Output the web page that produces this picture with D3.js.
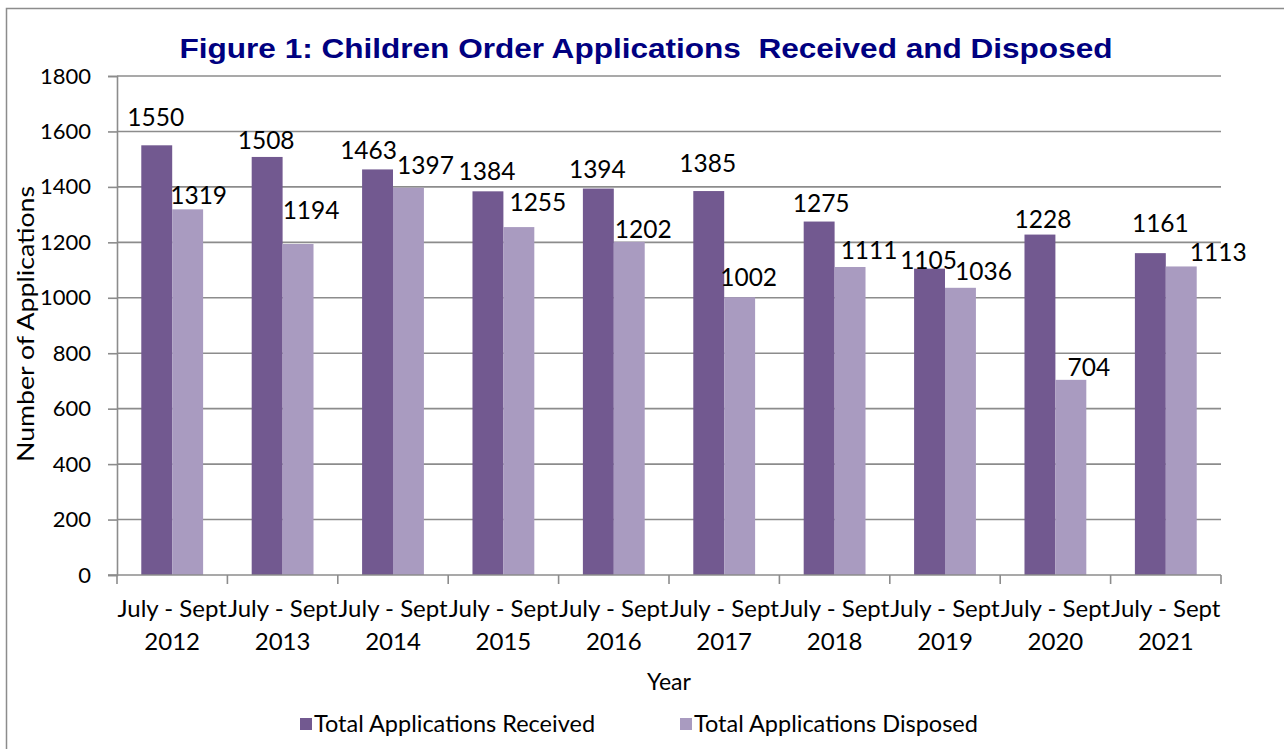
<!DOCTYPE html>
<html>
<head>
<meta charset="utf-8">
<script src="https://cdn.jsdelivr.net/npm/d3@7"></script>
<style>
  body { margin: 0; background: #fff; }
  svg { display: block; }
</style>
</head>
<body>
<svg width="1284" height="749"></svg>
<script>
/* ---- data ---- */
const years = ["2012", "2013", "2014", "2015", "2016", "2017", "2018", "2019", "2020", "2021"];
const received = [1550, 1508, 1463, 1384, 1394, 1385, 1275, 1105, 1228, 1161];
const disposed = [1319, 1194, 1397, 1255, 1202, 1002, 1111, 1036, 704, 1113];
const seriesNames = ["Total Applications Received", "Total Applications Disposed"];
const yTicks = [0, 200, 400, 600, 800, 1000, 1200, 1400, 1600, 1800];

/* hand-placed data labels in the original: nudge [dx, dy] in px from bar top centre */
const receivedNudge = [[-1, -19], [-1, -8], [-9, -10], [-1, -11], [-1, -11], [-1, -19], [2, -10], [-1, 0], [3, -7], [10, -21]];
const disposedNudge = [[11, -5], [13, -25], [17, -14], [19, -16], [14, -4], [9, -11], [19, -8], [23, -8], [18, -4], [37, -5]];

const colors = ["#725990", "#a99bc0"];
const font = "Lato, 'Open Sans', sans-serif";

const svg = d3.select("svg");

/* ---- frame (only left/top edges show) ---- */
svg.append("rect")
    .attr("x", 6.5).attr("y", 8.5)
    .attr("width", 1300).attr("height", 800)
    .attr("fill", "#fff")
    .attr("stroke", "#8c8c8c").attr("stroke-width", 1.5);

/* ---- scales ---- */
const plotLeft = 117, plotRight = 1221, plotTop = 76, plotBottom = 575;

const x = d3.scaleBand()
    .domain(years)
    .range([plotLeft, plotRight])
    .paddingInner(0.44)
    .paddingOuter(0.22);

const x1 = d3.scaleBand()
    .domain([0, 1])
    .range([0, x.bandwidth()]);

const y = d3.scaleLinear()
    .domain([0, 1800])
    .range([plotBottom, plotTop]);

/* ---- gridlines ---- */
svg.append("g")
    .selectAll("line")
    .data(yTicks.filter(d => d > 0))
    .join("line")
    .attr("x1", plotLeft).attr("x2", plotRight)
    .attr("y1", d => y(d)).attr("y2", d => y(d))
    .attr("stroke", "#8c8c8c").attr("stroke-width", 1.6);

/* ---- y axis ---- */
const yAxis = svg.append("g")
    .attr("transform", `translate(${plotLeft},0)`)
    .call(d3.axisLeft(y).tickValues(yTicks).tickFormat(d3.format("d")).tickSize(9).tickPadding(17));
yAxis.select(".domain").attr("stroke", "#8c8c8c").attr("stroke-width", 1.6);
yAxis.selectAll(".tick line").attr("stroke", "#8c8c8c").attr("stroke-width", 1.6);
yAxis.selectAll(".tick text")
    .attr("font-family", font).attr("font-size", 22).attr("fill", "#000");

/* ---- bars ---- */
const groups = svg.append("g")
    .selectAll("g")
    .data(years)
    .join("g")
    .attr("transform", d => `translate(${x(d)},0)`);

groups.selectAll("rect")
    .data((d, i) => [received[i], disposed[i]])
    .join("rect")
    .attr("x", (d, j) => x1(j))
    .attr("y", d => y(d))
    .attr("width", x1.bandwidth())
    .attr("height", d => y(0) - y(d))
    .attr("fill", (d, j) => colors[j]);

groups.selectAll("text")
    .data((d, i) => [
        { v: received[i], j: 0, n: receivedNudge[i] },
        { v: disposed[i], j: 1, n: disposedNudge[i] }
    ])
    .join("text")
    .attr("x", d => x1(d.j) + x1.bandwidth() / 2 + d.n[0])
    .attr("y", d => y(d.v) + d.n[1])
    .attr("text-anchor", "middle")
    .attr("font-family", font).attr("font-size", 24.5)
    .attr("fill", "#000")
    .text(d => d.v);

/* ---- x axis ---- */
const xAxisG = svg.append("g");
xAxisG.append("line")
    .attr("x1", plotLeft - 9).attr("x2", plotRight)
    .attr("y1", plotBottom).attr("y2", plotBottom)
    .attr("stroke", "#8c8c8c").attr("stroke-width", 1.6);

xAxisG.selectAll("line.tk")
    .data(d3.range(years.length + 1))
    .join("line")
    .attr("class", "tk")
    .attr("x1", i => plotLeft + i * x.step())
    .attr("x2", i => plotLeft + i * x.step())
    .attr("y1", plotBottom).attr("y2", plotBottom + 9)
    .attr("stroke", "#8c8c8c").attr("stroke-width", 1.6);

const xLabels = xAxisG.selectAll("text")
    .data(years)
    .join("text")
    .attr("text-anchor", "middle")
    .attr("font-family", font).attr("font-size", 24)
    .attr("fill", "#000");
xLabels.append("tspan")
    .attr("x", d => x(d) + x.bandwidth() / 2)
    .attr("y", 617)
    .text("July - Sept");
xLabels.append("tspan")
    .attr("x", d => x(d) + x.bandwidth() / 2)
    .attr("y", 650)
    .text(d => d);

/* ---- axis titles ---- */
svg.append("text")
    .attr("x", 669).attr("y", 690)
    .attr("text-anchor", "middle")
    .attr("font-family", font).attr("font-size", 23)
    .text("Year");

svg.append("text")
    .attr("transform", "translate(34,324) rotate(-90)")
    .attr("text-anchor", "middle")
    .attr("font-family", font).attr("font-size", 23)
    .attr("textLength", 276).attr("lengthAdjust", "spacingAndGlyphs")
    .text("Number of Applications");

/* ---- title ---- */
svg.append("text")
    .attr("x", 646).attr("y", 58)
    .attr("text-anchor", "middle")
    .attr("font-family", "'Liberation Sans', Arial, sans-serif")
    .attr("font-weight", "bold")
    .attr("font-size", 28)
    .attr("fill", "#000080")
    .attr("xml:space", "preserve")
    .attr("textLength", 933).attr("lengthAdjust", "spacingAndGlyphs")
    .text("Figure 1: Children Order Applications  Received and Disposed");

/* ---- legend ---- */
const legendX = [300, 680];
const legend = svg.append("g")
    .selectAll("g")
    .data(seriesNames)
    .join("g")
    .attr("transform", (d, i) => `translate(${legendX[i]},718)`);
legend.append("rect")
    .attr("width", 12).attr("height", 12)
    .attr("fill", (d, i) => colors[i]);
legend.append("text")
    .attr("x", 14).attr("y", 14)
    .attr("font-family", font).attr("font-size", 23.5)
    .attr("fill", "#000")
    .text(d => d);
</script>
</body>
</html>
